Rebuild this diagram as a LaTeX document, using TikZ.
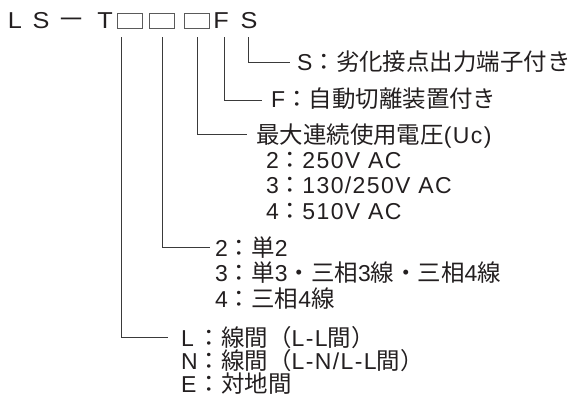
\documentclass[tikz,border=0pt]{standalone}
\usepackage{fontspec}
\setmainfont{Liberation Sans}[LetterSpace=6]
\newfontfamily\jp{Noto Sans CJK JP}[Scale=1.02]
\definecolor{ink}{HTML}{231F20}
\definecolor{lin}{HTML}{3A3A3A}
\definecolor{boxc}{HTML}{5A5A5A}
\begin{document}
\begin{tikzpicture}[x=1pt,y=-1pt,
  txt/.style={anchor=base west,inner sep=0pt,text=ink,font=\fontsize{23}{27}\selectfont},
  ttl/.style={anchor=base,inner sep=0pt,text=ink,xscale=1.1,transform shape,font=\fontsize{23}{27}\selectfont},
  conn/.style={draw=lin,line width=0.9pt},
  slot/.style={draw=boxc,line width=0.8pt,minimum width=25pt,minimum height=15pt,inner sep=0pt}]
\useasboundingbox (0,0) rectangle (573,402);
% title
\node[ttl] (tL) at (15,28) {L};
\node[ttl] (tS1) at (41,28) {S};
\node[ttl] (tD) at (71.5,28) {\fontsize{25}{30}\selectfont\jp －};
\node[ttl] (tT) at (105,28) {T};
\node[slot] (b1) at (129.5,20.5) {};
\node[slot] (b2) at (162,20.5) {};
\node[slot] (b3) at (196.5,20.5) {};
\node[ttl] (tF) at (221,28) {F};
\node[ttl] (tS2) at (249,28) {S};
% connector ends
\coordinate (eS) at (290,62);
\coordinate (eF) at (262,100);
\coordinate (eU) at (247,134);
\coordinate (eP) at (210,247);
\coordinate (eL) at (168,337);
% labels
\node[txt] (lS) at (297,70) {S{\jp ：劣化接点出力端子付き}};
\node[txt] (lF) at (271,107) {F{\jp ：自動切離装置付き}};
\node[txt] (lU) at (256,143) {{\jp 最大連続使用電圧}(Uc)};
\node[txt] (v2) at (266,168) {2{\jp ：}250V AC};
\node[txt] (v3) at (266,193.5) {3{\jp ：}130/250V AC};
\node[txt] (v4) at (266,219) {4{\jp ：}510V AC};
\node[txt] (p2) at (215,256) {2{\jp ：単}2};
\node[txt] (p3) at (215,281.5) {3{\jp ：単}3{\jp ・三相}3{\jp 線・三相}4{\jp 線}};
\node[txt] (p4) at (215,307) {4{\jp ：三相}4{\jp 線}};
\node[txt] (lL) at (181,346.5) {\rlap{L}\phantom{N}{\jp ：線間（}L-L{\jp 間）}};
\node[txt] (lN) at (181,369.5) {N{\jp ：線間（}L-N/L-L{\jp 間）}};
\node[txt] (lE) at (181,392.5) {\rlap{E}\phantom{N}{\jp ：対地間}};
% connectors
\draw[conn] ([xshift=-1pt,yshift=-9pt]tS2.base) |- (eS);
\draw[conn] ([xshift=3pt,yshift=-9pt]tF.base) |- (eF);
\draw[conn] ([xshift=0.5pt,yshift=-9pt]b3.south) |- (eU);
\draw[conn] ([yshift=-9pt]b2.south) |- (eP);
\draw[conn] ([xshift=-8.5pt,yshift=-9pt]b1.south) |- (eL);
\end{tikzpicture}
\end{document}
